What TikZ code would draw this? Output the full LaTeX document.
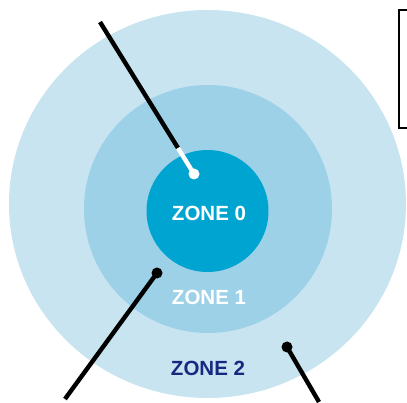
\documentclass[tikz,border=0pt]{standalone}
\usepackage{fontspec}
\setmainfont{Liberation Sans}
\usepackage{xcolor}
\usetikzlibrary{positioning, shapes, shapes.geometric, arrows.meta}
\definecolor{zoneA}{RGB}{0,164,208}
\definecolor{zoneB}{RGB}{157,209,231}
\definecolor{zoneC}{RGB}{200,228,240}
\definecolor{zonetext}{RGB}{22,40,128}

\begin{document}
\begin{tikzpicture}[
    x=1pt, y=-1pt,
    zone/.style={circle, draw=none, inner sep=0pt},
    label/.style={font=\bfseries\fontsize{20.5}{20.5}\selectfont, text=white},
    dot/.style={circle, fill=black, inner sep=0pt, minimum size=11pt},
    pointer/.style={line width=4.4pt, black}
]
\clip (0,0) rectangle (407,403);

% Zones
\node[ellipse, draw=none, inner sep=0pt, fill=zoneC, minimum width=397pt, minimum height=388pt] (z2) at (207.5,204) {};
\node[zone, fill=zoneB, minimum size=248pt] (z1) at (208,209) {};
\node[zone, fill=zoneA, minimum size=122pt] (z0) at (207.5,211) {};

% Labels
\node[label] (t0) at (209,213) {ZONE 0};
\node[label] (t1) at (209,297) {ZONE 1};
\node[label, text=zonetext] (t2) at (208,368) {ZONE 2};

% Pointer ends
\coordinate (p0) at (100,22);
\coordinate (p0b) at (178,148);
\coordinate (p1) at (65,399);
\coordinate (p2) at (319,402);
\node[dot, fill=white] (d0) at (194,174) {};
\node[dot] (d1) at (157,273) {};
\node[dot] (d2) at (287,347) {};

% Pointers
\draw[pointer] (p0) -- (p0b);
\draw[pointer, white] (p0b) -- (d0.center);
\draw[pointer] (p1) -- (d1.center);
\draw[pointer] (p2) -- (d2.center);

% Side box
\draw[line width=1.6pt] (420,10) -- (399,10) -- (399,128) -- (420,128);

\end{tikzpicture}
\end{document}
